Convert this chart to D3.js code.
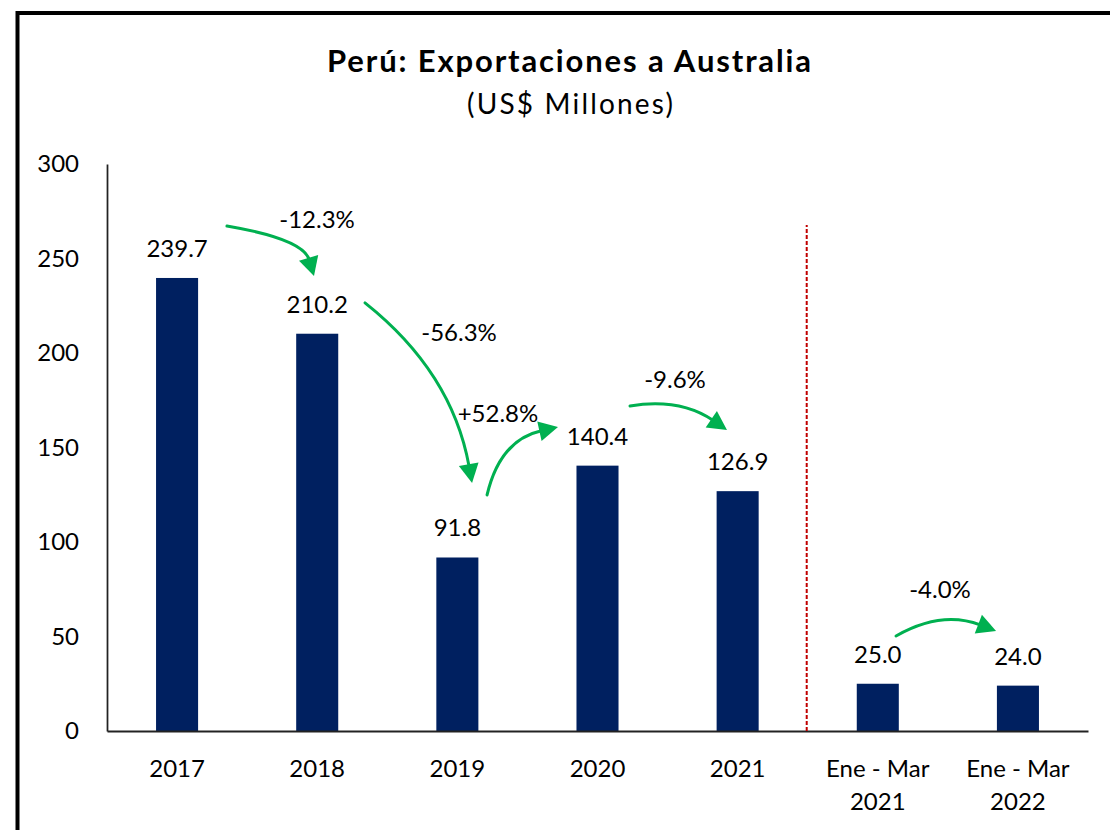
<!DOCTYPE html>
<html>
<head>
<meta charset="utf-8">
<script src="https://cdn.jsdelivr.net/npm/d3@7"></script>
<style>
  html, body { margin: 0; padding: 0; background: #fff; }
  svg { display: block; }
  text { font-family: Lato, "Open Sans", sans-serif; fill: #000; }
</style>
</head>
<body>
<svg id="chart" width="1110" height="830"></svg>
<script>
// ---- data ----
const categories = ["2017", "2018", "2019", "2020", "2021", "Ene - Mar 2021", "Ene - Mar 2022"];
const categoryLines = [["2017"], ["2018"], ["2019"], ["2020"], ["2021"], ["Ene - Mar", "2021"], ["Ene - Mar", "2022"]];
const values = [239.7, 210.2, 91.8, 140.4, 126.9, 25.0, 24.0];
const valueLabels = ["239.7", "210.2", "91.8", "140.4", "126.9", "25.0", "24.0"];
const yTicks = [0, 50, 100, 150, 200, 250, 300];
const changeLabels = ["-12.3%", "-56.3%", "+52.8%", "-9.6%", "-4.0%"];
// arrow geometry in data units: [category position, value]
const arrowStarts = [[0.856, 267.2], [1.841, 226.5], [2.712, 124.9], [3.732, 172.0], [5.630, 50.3]];
const arrowControls = [[1.399, 260.3], [2.462, 189.9], [2.804, 154.0], [4.089, 176.2], [5.956, 64.0]];
const arrowEnds = [[1.477, 240.7], [2.605, 131.2], [3.218, 160.8], [4.424, 159.3], [6.344, 52.9]];
const changeLabelPos = [[1.499, 266.1], [2.512, 206.3], [2.790, 163.5], [4.053, 181.5], [5.944, 70.4]];
const dividerPosition = 5; // boundary between annual and Jan-Mar periods

// ---- layout ----
const svg = d3.select("#chart");
const mLeft = 107, mRight = 1088, mTop = 164, mBottom = 731;
const navy = "#002060", green = "#00B050", red = "#C00000";
const fs = "24px";

const x = d3.scaleBand().domain(categories).range([mLeft, mRight]).paddingInner(0.7).paddingOuter(0.35);
const xu = d3.scaleLinear().domain([0, categories.length]).range([mLeft, mRight]);
const y = d3.scaleLinear().domain([0, 300]).range([mBottom, mTop]);

// outer frame
svg.append("rect").attr("x", 17.5).attr("y", 13).attr("width", 1200).attr("height", 900)
  .attr("fill", "none").attr("stroke", "#000").attr("stroke-width", 4);

// title
svg.append("text").attr("x", 569).attr("y", 72).attr("text-anchor", "middle")
  .attr("textLength", 484).attr("lengthAdjust", "spacing")
  .style("font-size", "31px").style("font-weight", "bold").text("Perú: Exportaciones a Australia");
svg.append("text").attr("x", 570).attr("y", 114).attr("text-anchor", "middle")
  .attr("textLength", 206).attr("lengthAdjust", "spacing")
  .style("font-size", "28px").text("(US$ Millones)");

// bars
svg.append("g").selectAll("rect").data(values).join("rect")
  .attr("x", (d, i) => x(categories[i]))
  .attr("y", d => y(d))
  .attr("width", x.bandwidth())
  .attr("height", d => y(0) - y(d))
  .attr("fill", navy);

// value labels
svg.append("g").selectAll("text").data(values).join("text")
  .attr("x", (d, i) => x(categories[i]) + x.bandwidth() / 2)
  .attr("y", d => y(d) - 21)
  .attr("text-anchor", "middle")
  .style("font-size", fs)
  .text((d, i) => valueLabels[i]);

// y axis
const yAxis = d3.axisLeft(y).tickValues(yTicks).tickSize(0).tickPadding(28).tickFormat(d3.format("d"));
const gy = svg.append("g").attr("transform", `translate(${mLeft},0)`).call(yAxis);
gy.select(".domain").attr("stroke", "#222").attr("stroke-width", 1.75);
gy.selectAll(".tick text").style("font-size", fs).style("font-family", "Lato, sans-serif").attr("fill", "#000");

// x axis line
const xAxis = d3.axisBottom(x).tickSize(0).tickFormat("");
const gx = svg.append("g").attr("transform", `translate(0,${mBottom})`).call(xAxis);
gx.select(".domain").attr("stroke", "#222").attr("stroke-width", 2);

// category labels
const catG = svg.append("g").selectAll("text").data(categories).join("text")
  .attr("text-anchor", "middle")
  .style("font-size", fs);
catG.each(function(d, i) {
  const t = d3.select(this);
  categoryLines[i].forEach((line, j) => {
    t.append("tspan").attr("x", x(d) + x.bandwidth() / 2).attr("y", mBottom + 46 + j * 33).text(line);
  });
});

// divider
svg.append("line")
  .attr("x1", xu(dividerPosition) - 1).attr("x2", xu(dividerPosition) - 1)
  .attr("y1", y(0)).attr("y2", 225)
  .attr("stroke", red).attr("stroke-width", 2).attr("stroke-dasharray", "4,2");

// arrows
const ag = svg.append("g");
changeLabels.forEach((lab, i) => {
  const S = [xu(arrowStarts[i][0]), y(arrowStarts[i][1])];
  const C = [xu(arrowControls[i][0]), y(arrowControls[i][1])];
  const E = [xu(arrowEnds[i][0]), y(arrowEnds[i][1])];
  const dx = E[0] - C[0], dy = E[1] - C[1];
  const len = Math.hypot(dx, dy);
  const ux = dx / len, uy = dy / len;
  const headL = 19, headW = 10;
  const B = [E[0] - ux * headL, E[1] - uy * headL];
  const path = d3.path();
  path.moveTo(S[0], S[1]);
  path.quadraticCurveTo(C[0], C[1], B[0] + ux * 2, B[1] + uy * 2);
  ag.append("path").attr("d", path.toString()).attr("fill", "none")
    .attr("stroke", green).attr("stroke-width", 3).attr("stroke-linecap", "round");
  const px = -uy, py = ux;
  ag.append("path")
    .attr("d", `M${E[0]},${E[1]}L${B[0] + px * headW},${B[1] + py * headW}L${B[0] - px * headW},${B[1] - py * headW}Z`)
    .attr("fill", green);
  ag.append("text")
    .attr("x", xu(changeLabelPos[i][0])).attr("y", y(changeLabelPos[i][1]))
    .attr("text-anchor", "middle").style("font-size", fs).text(lab);
});
</script>
</body>
</html>
